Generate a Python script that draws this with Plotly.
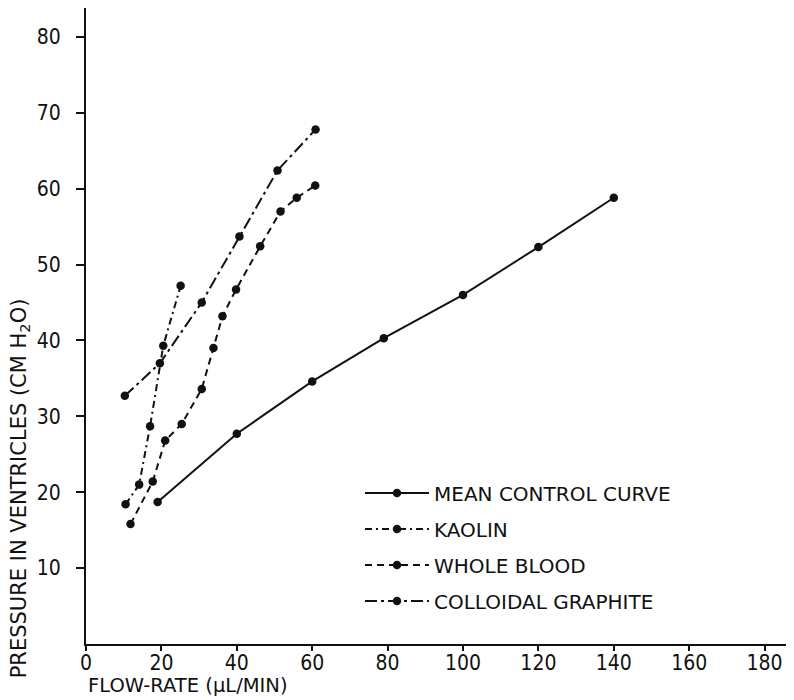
import plotly.graph_objects as go

# Data
control_x = [19, 40, 60, 79, 100, 120, 140]
control_y = [18.7, 27.7, 34.6, 40.3, 46.0, 52.3, 58.8]

kaolin_x = [10.5, 14.1, 17.0, 20.5, 25.1]
kaolin_y = [18.4, 21.0, 28.7, 39.3, 47.2]

blood_x = [11.8, 17.7, 21.0, 25.4, 30.7, 33.8, 36.2, 39.8, 46.2, 51.6, 55.9, 60.8]
blood_y = [15.8, 21.4, 26.8, 29.0, 33.6, 39.0, 43.2, 46.7, 52.4, 57.0, 58.8, 60.4]

graphite_x = [10.3, 19.6, 30.7, 40.7, 50.8, 60.9]
graphite_y = [32.7, 37.0, 45.0, 53.7, 62.4, 67.8]

x_ticks = [0, 20, 40, 60, 80, 100, 120, 140, 160, 180]
y_ticks = [10, 20, 30, 40, 50, 60, 70, 80]

FONT = "DejaVu Sans"
NUMFONT = "Liberation Sans Narrow, DejaVu Sans Condensed, Open Sans"
ink = "#111111"

series = [
    ("MEAN CONTROL CURVE", control_x, control_y, "solid"),
    ("KAOLIN", kaolin_x, kaolin_y, "7px,4px,2px,4px"),
    ("WHOLE BLOOD", blood_x, blood_y, "7px,5px"),
    ("COLLOIDAL GRAPHITE", graphite_x, graphite_y, "12px,4px,3px,4px"),
]

fig = go.Figure()
for i, (name, xs, ys, dash) in enumerate(series):
    fig.add_trace(go.Scatter(
        x=xs, y=ys, name=name, mode="lines+markers",
        line=dict(color=ink, width=2, dash=dash),
        marker=dict(color=ink, size=8.5, symbol="circle"),
        legendgroup=f"g{i}",
    ))

fig.update_layout(
    width=786, height=692,
    margin=dict(l=78, r=0, t=0, b=56, autoexpand=False),
    paper_bgcolor="white", plot_bgcolor="white",
    font=dict(family=FONT, size=17, color=ink),
    showlegend=True,
    legend=dict(
        x=0.387, y=0.268, xanchor="left", yanchor="top",
        bgcolor="rgba(0,0,0,0)", font=dict(family=FONT, size=20, color=ink),
        traceorder="grouped", tracegroupgap=7, itemwidth=64,
    ),
    xaxis=dict(
        range=[0, 187.8], tickmode="array", tickvals=x_ticks,
        ticktext=[str(v) for v in x_ticks],
        showline=True, linecolor=ink, linewidth=2,
        ticks="outside", ticklen=5, tickwidth=1.5, tickcolor=ink,
        showgrid=False, zeroline=False, automargin=False,
        ticklabelstandoff=-6,
        tickfont=dict(family=NUMFONT, size=21, color=ink),
    ),
    yaxis=dict(
        range=[0, 83.8], tickmode="array", tickvals=y_ticks,
        ticktext=[str(v) for v in y_ticks],
        showline=True, linecolor=ink, linewidth=2,
        ticks="outside", ticklen=8, tickwidth=1.5, tickcolor=ink,
        showgrid=False, zeroline=False, automargin=False,
        ticklabelstandoff=11,
        tickfont=dict(family=NUMFONT, size=21, color=ink),
    ),
)

fig.add_annotation(
    text="FLOW-RATE (μL/MIN)", xref="paper", yref="paper",
    x=0.0, y=-0.066, xanchor="left", yanchor="middle", showarrow=False,
    font=dict(family=FONT, size=19.5, color=ink),
)
fig.add_annotation(
    text="PRESSURE IN VENTRICLES (CM H<sub>2</sub>O)", xref="paper", yref="paper",
    x=-0.093, y=0.245, xanchor="center", yanchor="middle", textangle=-90,
    showarrow=False, font=dict(family=FONT, size=21, color=ink),
)

fig.write_html("out.html")
